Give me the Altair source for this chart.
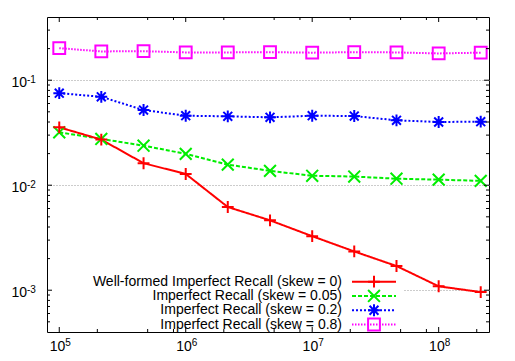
import altair as alt
import pandas as pd

# ---------------- data ----------------
x_values = [1e5, 2.15e5, 4.64e5, 1e6, 2.15e6, 4.64e6, 1e7, 2.15e7, 4.64e7, 1e8, 2.15e8]

series_names = [
    "Well-formed Imperfect Recall (skew = 0)",
    "Imperfect Recall (skew = 0.05)",
    "Imperfect Recall (skew = 0.2)",
    "Imperfect Recall (skew = 0.8)",
]
well_formed = [0.0356, 0.0272, 0.0162, 0.0128, 0.0062, 0.00463, 0.00327, 0.00234, 0.0017, 0.00109, 0.00096]
skew_005 = [0.0319, 0.0276, 0.0238, 0.0199, 0.0157, 0.0137, 0.0123, 0.0121, 0.01153, 0.0113, 0.0110]
skew_02 = [0.0753, 0.0695, 0.052, 0.0459, 0.0453, 0.0443, 0.0459, 0.0456, 0.0415, 0.0400, 0.0403]
skew_08 = [0.202, 0.188, 0.189, 0.184, 0.184, 0.185, 0.183, 0.185, 0.184, 0.180, 0.183]
series_values = [well_formed, skew_005, skew_02, skew_08]

x_major = [1e5, 1e6, 1e7, 1e8]
x_exponents = ["5", "6", "7", "8"]
x_minor = [2e5, 5e5, 8e5, 2e6, 5e6, 8e6, 2e7, 5e7, 8e7, 2e8]
y_major = [1e-3, 1e-2, 1e-1]
y_exponents = ["-3", "-2", "-1"]
y_minor = [5e-4, 6e-4, 7e-4, 8e-4, 9e-4,
           2e-3, 3e-3, 4e-3, 5e-3, 6e-3, 7e-3, 8e-3, 9e-3,
           2e-2, 3e-2, 4e-2, 5e-2, 6e-2, 7e-2, 8e-2, 9e-2,
           2e-1, 3e-1]

x_domain = [8e4, 2.5e8]
y_domain = [4e-4, 0.4]

# ---------------- styles ----------------
series_colors = ["#ff0000", "#00ee00", "#0000ff", "#ff00ff"]
series_dashes = [[1, 0], [4, 2], [2, 2], [1.5, 1.5]]
series_shapes = [
    "M-1,0H1M0,-1V1",
    "M-1,-1L1,1M-1,1L1,-1",
    "M-1,0H1M0,-1V1M-0.75,-0.75L0.75,0.75M-0.75,0.75L0.75,-0.75",
    "square",
]

W, H = 442, 315
FONT = "Liberation Sans"

rows = []
for name, vals in zip(series_names[::-1], series_values[::-1]):
    for xv, yv in zip(x_values, vals):
        rows.append({"series": name, "x": xv, "y": yv})
df = pd.DataFrame(rows)

legend_df = pd.DataFrame({"series": series_names, "row": list(range(len(series_names)))})

x_scale = alt.Scale(type="log", domain=x_domain, nice=False)
y_scale = alt.Scale(type="log", domain=y_domain, nice=False)

color_enc = alt.Color("series:N", scale=alt.Scale(domain=series_names, range=series_colors), legend=None)
dash_enc = alt.StrokeDash("series:N", scale=alt.Scale(domain=series_names, range=series_dashes), legend=None)
shape_enc = alt.Shape("series:N", scale=alt.Scale(domain=series_names, range=series_shapes), legend=None)

y_axis = alt.Axis(values=y_major, labels=False, domain=False, ticks=False, grid=True,
                  gridDash=[1, 2], gridColor="#999999", gridWidth=1, title=None)
x_enc = alt.X("x:Q", scale=x_scale, axis=None)
y_enc = alt.Y("y:Q", scale=y_scale, axis=y_axis)

base = alt.Chart(df)
lines = base.mark_line(strokeWidth=2).encode(x=x_enc, y=y_enc, color=color_enc, strokeDash=dash_enc)
points = base.mark_point(filled=False, size=140, strokeWidth=2, opacity=1).encode(
    x=x_enc, y=y_enc, color=color_enc, shape=shape_enc)
main = alt.layer(lines, points)

# ---------------- legend (gnuplot style: labels left, samples right) ----------------
row_y = alt.Y("row:Q", scale=alt.Scale(domain=[0, 3], range=[264.7, 307.5]), axis=None)
leg_box = alt.Chart(legend_df).mark_rect(fill="white").encode(
    x=alt.value(1), x2=alt.value(357), y=alt.value(257), y2=alt.value(314))
leg_text = alt.Chart(legend_df).mark_text(align="right", baseline="middle", fontSize=14, font=FONT,
                                          color="black").encode(
    x=alt.value(295), y=row_y, text="series:N")
leg_line = alt.Chart(legend_df).mark_rule(strokeWidth=2).encode(
    x=alt.value(305), x2=alt.value(349), y=row_y, color=color_enc, strokeDash=dash_enc)
leg_pt = alt.Chart(legend_df).mark_point(filled=False, size=140, strokeWidth=2, opacity=1).encode(
    x=alt.value(327), y=row_y, color=color_enc, shape=shape_enc)
legend = alt.layer(leg_box, leg_text, leg_line, leg_pt)

# ---------------- inward ticks on all four sides + tick labels ----------------
layers = []
for vals, ln in ((x_major, 5), (x_minor, 3)):
    tdf = pd.DataFrame({"v": vals})
    xe = alt.X("v:Q", scale=x_scale, axis=None)
    layers.append(alt.Chart(tdf).mark_rule(color="black", strokeWidth=1).encode(
        x=xe, y=alt.value(0), y2=alt.value(ln)))
    layers.append(alt.Chart(tdf).mark_rule(color="black", strokeWidth=1).encode(
        x=xe, y=alt.value(H), y2=alt.value(H - ln)))
for vals, ln in ((y_major, 5), (y_minor, 3)):
    tdf = pd.DataFrame({"v": vals})
    ye = alt.Y("v:Q", scale=y_scale, axis=None)
    layers.append(alt.Chart(tdf).mark_rule(color="black", strokeWidth=1).encode(
        y=ye, x=alt.value(0), x2=alt.value(ln)))
    layers.append(alt.Chart(tdf).mark_rule(color="black", strokeWidth=1).encode(
        y=ye, x=alt.value(W), x2=alt.value(W - ln)))

xl_df = pd.DataFrame({"v": x_major, "e": x_exponents})
layers.append(alt.Chart(xl_df).mark_text(align="right", baseline="alphabetic", fontSize=14, font=FONT,
                                         color="black", text="10", dx=6).encode(
    x=alt.X("v:Q", scale=x_scale, axis=None), y=alt.value(H + 18.5)))
layers.append(alt.Chart(xl_df).mark_text(align="left", baseline="alphabetic", fontSize=10, font=FONT,
                                         color="black", dx=6).encode(
    x=alt.X("v:Q", scale=x_scale, axis=None), y=alt.value(H + 14), text="e:N"))

yl_df = pd.DataFrame({"v": y_major, "e": y_exponents})
layers.append(alt.Chart(yl_df).mark_text(align="right", baseline="alphabetic", fontSize=14, font=FONT,
                                         color="black", text="10", dy=7).encode(
    y=alt.Y("v:Q", scale=y_scale, axis=None), x=alt.value(-20)))
layers.append(alt.Chart(yl_df).mark_text(align="left", baseline="alphabetic", fontSize=10, font=FONT,
                                         color="black", dy=3).encode(
    y=alt.Y("v:Q", scale=y_scale, axis=None), x=alt.value(-20), text="e:N"))
ticks = alt.layer(*layers)

chart = alt.layer(main, legend, ticks).resolve_scale(y="independent").properties(
    width=W, height=H,
    autosize=alt.AutoSizeParams(type="none"),
    padding={"left": 39, "top": 9, "right": 15, "bottom": 21},
    background="white",
).configure_view(stroke="black", strokeWidth=1)

chart.save("out.html", embed_options={"renderer": "svg", "actions": False})
